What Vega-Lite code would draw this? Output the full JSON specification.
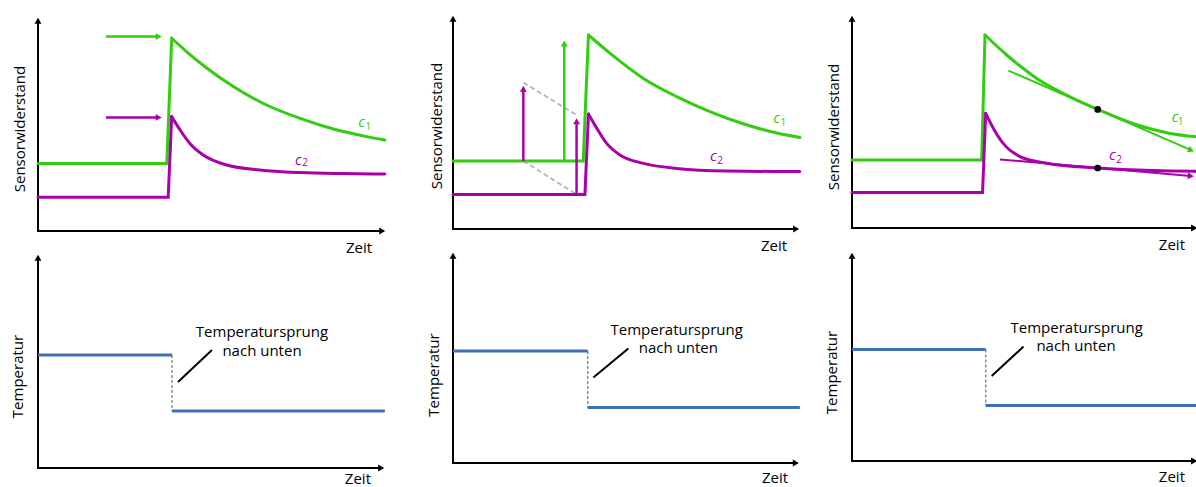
{
  "$schema": "https://vega.github.io/schema/vega-lite/v6.json",
  "padding": 0,
  "spacing": 0,
  "bounds": "flush",
  "align": "each",
  "columns": 3,
  "config": {"view": {"stroke": null}},
  "resolve": {"scale": {"x": "independent", "y": "independent"}},
  "datasets": {
    "segs": [
      {"p": 1, "k": "axis", "s": "ax", "t": 0, "v": 0, "t2": 0, "v2": 105.5},
      {"p": 1, "k": "axis", "s": "ax", "t": 0, "v": 0, "t2": 98.5, "v2": 0},
      {"p": 1, "k": "arrow", "s": "c1", "t": 19.4, "v": 97.2, "t2": 34.5, "v2": 97.2},
      {"p": 1, "k": "arrow", "s": "c2", "t": 19.4, "v": 56.8, "t2": 34.5, "v2": 56.8},
      {"p": 2, "k": "axis", "s": "ax", "t": 0, "v": 0, "t2": 0, "v2": 105.3},
      {"p": 2, "k": "axis", "s": "ax", "t": 0, "v": 0, "t2": 98.2, "v2": 0},
      {"p": 2, "k": "dash", "s": "gray", "t": 20.1, "v": 73.2, "t2": 35.3, "v2": 57},
      {"p": 2, "k": "dash", "s": "gray", "t": 20.1, "v": 34, "t2": 35.3, "v2": 17.3},
      {"p": 2, "k": "arrow", "s": "c2", "t": 20.1, "v": 34, "t2": 20.1, "v2": 70.1},
      {"p": 2, "k": "arrow", "s": "c1", "t": 31.8, "v": 34, "t2": 31.8, "v2": 92.7},
      {"p": 2, "k": "arrow", "s": "c2", "t": 35.3, "v": 17.3, "t2": 35.3, "v2": 53.9},
      {"p": 3, "k": "axis", "s": "ax", "t": 0, "v": 0, "t2": 0, "v2": 104.8},
      {"p": 3, "k": "axis", "s": "ax", "t": 0, "v": 0, "t2": 97.9, "v2": 0},
      {"p": 3, "k": "tangent", "s": "c1", "t": 44.7, "v": 78.7, "t2": 96.9, "v2": 38.9},
      {"p": 3, "k": "tangent", "s": "c2", "t": 42.3, "v": 34.3, "t2": 96.8, "v2": 26.0},
      {"p": 4, "k": "axis", "s": "ax", "t": 0, "v": 0, "t2": 0, "v2": 105.3},
      {"p": 4, "k": "axis", "s": "ax", "t": 0, "v": 0, "t2": 98.2, "v2": 0},
      {"p": 4, "k": "tdash", "s": "gray", "t": 38.3, "v": 56.5, "t2": 38.3, "v2": 28.5},
      {"p": 4, "k": "pointer", "s": "ax", "t": 40, "v": 43, "t2": 49.7, "v2": 59},
      {"p": 5, "k": "axis", "s": "ax", "t": 0, "v": 0, "t2": 0, "v2": 103.8},
      {"p": 5, "k": "axis", "s": "ax", "t": 0, "v": 0, "t2": 98.1, "v2": 0},
      {"p": 5, "k": "tdash", "s": "gray", "t": 38.5, "v": 56, "t2": 38.5, "v2": 27.7},
      {"p": 5, "k": "pointer", "s": "ax", "t": 40.1, "v": 42.7, "t2": 50.1, "v2": 57.3},
      {"p": 6, "k": "axis", "s": "ax", "t": 0, "v": 0, "t2": 0, "v2": 102.8},
      {"p": 6, "k": "axis", "s": "ax", "t": 0, "v": 0, "t2": 97.9, "v2": 0},
      {"p": 6, "k": "tdash", "s": "gray", "t": 38.2, "v": 55.8, "t2": 38.2, "v2": 27.7},
      {"p": 6, "k": "pointer", "s": "ax", "t": 39.9, "v": 42.5, "t2": 49, "v2": 57.2}
    ],
    "heads": [
      {"p": 1, "s": "ax", "d": "up", "t": 0, "v": 105.1, "a": 0},
      {"p": 1, "s": "ax", "d": "right", "t": 98.34, "v": 0, "a": 0},
      {"p": 1, "s": "c1", "d": "right", "t": 34.5, "v": 97.2, "a": 0},
      {"p": 1, "s": "c2", "d": "right", "t": 34.5, "v": 56.8, "a": 0},
      {"p": 2, "s": "ax", "d": "up", "t": 0, "v": 105.1, "a": 0},
      {"p": 2, "s": "ax", "d": "right", "t": 98.04, "v": 0, "a": 0},
      {"p": 2, "s": "c2", "d": "up", "t": 20.1, "v": 70.1, "a": 0},
      {"p": 2, "s": "c1", "d": "up", "t": 31.8, "v": 92.7, "a": 0},
      {"p": 2, "s": "c2", "d": "up", "t": 35.3, "v": 53.9, "a": 0},
      {"p": 3, "s": "ax", "d": "up", "t": 0, "v": 104.6, "a": 0},
      {"p": 3, "s": "ax", "d": "right", "t": 97.74, "v": 0, "a": 0},
      {"p": 3, "s": "c1", "d": "right", "t": 96.9, "v": 38.9, "a": 23.5},
      {"p": 3, "s": "c2", "d": "right", "t": 96.8, "v": 26.0, "a": 5},
      {"p": 4, "s": "ax", "d": "up", "t": 0, "v": 105.1, "a": 0},
      {"p": 4, "s": "ax", "d": "right", "t": 98.04, "v": 0, "a": 0},
      {"p": 5, "s": "ax", "d": "up", "t": 0, "v": 103.6, "a": 0},
      {"p": 5, "s": "ax", "d": "right", "t": 97.94, "v": 0, "a": 0},
      {"p": 6, "s": "ax", "d": "up", "t": 0, "v": 102.6, "a": 0},
      {"p": 6, "s": "ax", "d": "right", "t": 97.74, "v": 0, "a": 0}
    ],
    "curves": [
      {"p": 1, "m": "step", "s": "c1", "g": "c1", "t": 0, "v": 33.8},
      {"p": 1, "m": "step", "s": "c1", "g": "c1", "t": 36.8, "v": 33.8},
      {"p": 1, "m": "step", "s": "c1", "g": "c1", "t": 38.2, "v": 96.4},
      {"p": 1, "m": "decay", "s": "c1", "g": "c1", "t": 38.2, "v": 96.4},
      {"p": 1, "m": "decay", "s": "c1", "g": "c1", "t": 42.5, "v": 89.6},
      {"p": 1, "m": "decay", "s": "c1", "g": "c1", "t": 48.2, "v": 81.5},
      {"p": 1, "m": "decay", "s": "c1", "g": "c1", "t": 55.8, "v": 72.2},
      {"p": 1, "m": "decay", "s": "c1", "g": "c1", "t": 65.3, "v": 63},
      {"p": 1, "m": "decay", "s": "c1", "g": "c1", "t": 74.9, "v": 56.3},
      {"p": 1, "m": "decay", "s": "c1", "g": "c1", "t": 84.4, "v": 51.0},
      {"p": 1, "m": "decay", "s": "c1", "g": "c1", "t": 93.9, "v": 47.2},
      {"p": 1, "m": "decay", "s": "c1", "g": "c1", "t": 99.1, "v": 45.5},
      {"p": 1, "m": "step", "s": "c2", "g": "c2", "t": 0, "v": 16.9},
      {"p": 1, "m": "step", "s": "c2", "g": "c2", "t": 37.2, "v": 16.9},
      {"p": 1, "m": "step", "s": "c2", "g": "c2", "t": 38.2, "v": 57.2},
      {"p": 1, "m": "decay", "s": "c2", "g": "c2", "t": 38.2, "v": 57.2},
      {"p": 1, "m": "decay", "s": "c2", "g": "c2", "t": 40.6, "v": 50.5},
      {"p": 1, "m": "decay", "s": "c2", "g": "c2", "t": 43.4, "v": 43.8},
      {"p": 1, "m": "decay", "s": "c2", "g": "c2", "t": 47.2, "v": 38},
      {"p": 1, "m": "decay", "s": "c2", "g": "c2", "t": 53.9, "v": 33},
      {"p": 1, "m": "decay", "s": "c2", "g": "c2", "t": 63.4, "v": 30.5},
      {"p": 1, "m": "decay", "s": "c2", "g": "c2", "t": 74.9, "v": 29.2},
      {"p": 1, "m": "decay", "s": "c2", "g": "c2", "t": 87, "v": 28.7},
      {"p": 1, "m": "decay", "s": "c2", "g": "c2", "t": 99.1, "v": 28.5},
      {"p": 2, "m": "step", "s": "c1", "g": "c1", "t": 0, "v": 34},
      {"p": 2, "m": "step", "s": "c1", "g": "c1", "t": 37.2, "v": 34},
      {"p": 2, "m": "step", "s": "c1", "g": "c1", "t": 38.7, "v": 97},
      {"p": 2, "m": "decay", "s": "c1", "g": "c1", "t": 38.7, "v": 97},
      {"p": 2, "m": "decay", "s": "c1", "g": "c1", "t": 44.9, "v": 87.8},
      {"p": 2, "m": "decay", "s": "c1", "g": "c1", "t": 54.4, "v": 75.3},
      {"p": 2, "m": "decay", "s": "c1", "g": "c1", "t": 63.9, "v": 66.2},
      {"p": 2, "m": "decay", "s": "c1", "g": "c1", "t": 73.4, "v": 58.7},
      {"p": 2, "m": "decay", "s": "c1", "g": "c1", "t": 82.9, "v": 52.6},
      {"p": 2, "m": "decay", "s": "c1", "g": "c1", "t": 92.5, "v": 48.0},
      {"p": 2, "m": "decay", "s": "c1", "g": "c1", "t": 99.1, "v": 45.8},
      {"p": 2, "m": "step", "s": "c2", "g": "c2", "t": 0, "v": 17.3},
      {"p": 2, "m": "step", "s": "c2", "g": "c2", "t": 37.7, "v": 17.3},
      {"p": 2, "m": "step", "s": "c2", "g": "c2", "t": 38.7, "v": 57.5},
      {"p": 2, "m": "decay", "s": "c2", "g": "c2", "t": 38.7, "v": 57.5},
      {"p": 2, "m": "decay", "s": "c2", "g": "c2", "t": 41.1, "v": 50.3},
      {"p": 2, "m": "decay", "s": "c2", "g": "c2", "t": 43.9, "v": 42.8},
      {"p": 2, "m": "decay", "s": "c2", "g": "c2", "t": 47.7, "v": 37},
      {"p": 2, "m": "decay", "s": "c2", "g": "c2", "t": 54.4, "v": 32.8},
      {"p": 2, "m": "decay", "s": "c2", "g": "c2", "t": 63.9, "v": 30.3},
      {"p": 2, "m": "decay", "s": "c2", "g": "c2", "t": 78.2, "v": 29},
      {"p": 2, "m": "decay", "s": "c2", "g": "c2", "t": 99.1, "v": 28.7},
      {"p": 3, "m": "step", "s": "c1", "g": "c1", "t": 0, "v": 34},
      {"p": 3, "m": "step", "s": "c1", "g": "c1", "t": 37.05, "v": 34},
      {"p": 3, "m": "step", "s": "c1", "g": "c1", "t": 38, "v": 96.5},
      {"p": 3, "m": "decay", "s": "c1", "g": "c1", "t": 38, "v": 96.5},
      {"p": 3, "m": "decay", "s": "c1", "g": "c1", "t": 44.2, "v": 86.5},
      {"p": 3, "m": "decay", "s": "c1", "g": "c1", "t": 52.8, "v": 74.8},
      {"p": 3, "m": "decay", "s": "c1", "g": "c1", "t": 62.3, "v": 65.6},
      {"p": 3, "m": "decay", "s": "c1", "g": "c1", "t": 70.2, "v": 59.3},
      {"p": 3, "m": "decay", "s": "c1", "g": "c1", "t": 81.3, "v": 51.6},
      {"p": 3, "m": "decay", "s": "c1", "g": "c1", "t": 90.9, "v": 47.3},
      {"p": 3, "m": "decay", "s": "c1", "g": "c1", "t": 99.4, "v": 45.5},
      {"p": 3, "m": "step", "s": "c2", "g": "c2", "t": 0, "v": 17.7},
      {"p": 3, "m": "step", "s": "c2", "g": "c2", "t": 37.3, "v": 17.7},
      {"p": 3, "m": "step", "s": "c2", "g": "c2", "t": 38.2, "v": 57.3},
      {"p": 3, "m": "decay", "s": "c2", "g": "c2", "t": 38.2, "v": 57.3},
      {"p": 3, "m": "decay", "s": "c2", "g": "c2", "t": 40.4, "v": 49.8},
      {"p": 3, "m": "decay", "s": "c2", "g": "c2", "t": 43.2, "v": 42.3},
      {"p": 3, "m": "decay", "s": "c2", "g": "c2", "t": 48, "v": 35.7},
      {"p": 3, "m": "decay", "s": "c2", "g": "c2", "t": 55.6, "v": 32.4},
      {"p": 3, "m": "decay", "s": "c2", "g": "c2", "t": 70.2, "v": 30},
      {"p": 3, "m": "decay", "s": "c2", "g": "c2", "t": 86.1, "v": 28.7},
      {"p": 3, "m": "decay", "s": "c2", "g": "c2", "t": 99.4, "v": 28.3},
      {"p": 4, "m": "step", "s": "temp", "g": "a", "t": 0, "v": 56.5},
      {"p": 4, "m": "step", "s": "temp", "g": "a", "t": 38.3, "v": 56.5},
      {"p": 4, "m": "step", "s": "temp", "g": "b", "t": 38.3, "v": 28.5},
      {"p": 4, "m": "step", "s": "temp", "g": "b", "t": 99.1, "v": 28.5},
      {"p": 5, "m": "step", "s": "temp", "g": "a", "t": 0, "v": 56},
      {"p": 5, "m": "step", "s": "temp", "g": "a", "t": 38.5, "v": 56},
      {"p": 5, "m": "step", "s": "temp", "g": "b", "t": 38.5, "v": 27.7},
      {"p": 5, "m": "step", "s": "temp", "g": "b", "t": 99.1, "v": 27.7},
      {"p": 6, "m": "step", "s": "temp", "g": "a", "t": 0, "v": 55.8},
      {"p": 6, "m": "step", "s": "temp", "g": "a", "t": 38.2, "v": 55.8},
      {"p": 6, "m": "step", "s": "temp", "g": "b", "t": 38.2, "v": 27.7},
      {"p": 6, "m": "step", "s": "temp", "g": "b", "t": 99.4, "v": 27.7}
    ],
    "dots": [
      {"p": 3, "t": 70.2, "v": 59.3},
      {"p": 3, "t": 70.2, "v": 30.0}
    ],
    "labels": [
      {"p": 1, "k": "ytitle", "s": "ax", "txt": "Sensorwiderstand", "t": -5.14, "v": 51},
      {"p": 1, "k": "xtitle", "s": "ax", "txt": "Zeit", "t": 91.7, "v": -8.5},
      {"p": 1, "k": "cmain", "s": "c1", "txt": "c", "t": 92.5, "v": 54.3},
      {"p": 1, "k": "csub", "s": "c1", "txt": "1", "t": 94.4, "v": 52.2},
      {"p": 1, "k": "cmain", "s": "c2", "txt": "c", "t": 74.4, "v": 35.5},
      {"p": 1, "k": "csub", "s": "c2", "txt": "2", "t": 76.3, "v": 33.8},
      {"p": 2, "k": "ytitle", "s": "ax", "txt": "Sensorwiderstand", "t": -4.57, "v": 51.5},
      {"p": 2, "k": "xtitle", "s": "ax", "txt": "Zeit", "t": 91.7, "v": -8.5},
      {"p": 2, "k": "cmain", "s": "c1", "txt": "c", "t": 92.5, "v": 55.3},
      {"p": 2, "k": "csub", "s": "c1", "txt": "1", "t": 94.4, "v": 53.2},
      {"p": 2, "k": "cmain", "s": "c2", "txt": "c", "t": 74.4, "v": 36.5},
      {"p": 2, "k": "csub", "s": "c2", "txt": "2", "t": 76.3, "v": 34.2},
      {"p": 3, "k": "ytitle", "s": "ax", "txt": "Sensorwiderstand", "t": -5.14, "v": 50.5},
      {"p": 3, "k": "xtitle", "s": "ax", "txt": "Zeit", "t": 91.4, "v": -8.5},
      {"p": 3, "k": "cmain", "s": "c1", "txt": "c", "t": 92.3, "v": 55.3},
      {"p": 3, "k": "csub", "s": "c1", "txt": "1", "t": 93.9, "v": 53.2},
      {"p": 3, "k": "cmain", "s": "c2", "txt": "c", "t": 74.4, "v": 36.5},
      {"p": 3, "k": "csub", "s": "c2", "txt": "2", "t": 76.3, "v": 34},
      {"p": 4, "k": "ytitle", "s": "ax", "txt": "Temperatur", "t": -5.7, "v": 45.75},
      {"p": 4, "k": "xtitle", "s": "ax", "txt": "Zeit", "t": 91.4, "v": -5.3},
      {"p": 4, "k": "note", "s": "ax", "txt": "Temperatursprung", "t": 64, "v": 65.3},
      {"p": 4, "k": "note", "s": "ax", "txt": "nach unten", "t": 64, "v": 56},
      {"p": 5, "k": "ytitle", "s": "ax", "txt": "Temperatur", "t": -5.4, "v": 44},
      {"p": 5, "k": "xtitle", "s": "ax", "txt": "Zeit", "t": 92, "v": -7.5},
      {"p": 5, "k": "note", "s": "ax", "txt": "Temperatursprung", "t": 63.9, "v": 64.2},
      {"p": 5, "k": "note", "s": "ax", "txt": "nach unten", "t": 64.4, "v": 55.2},
      {"p": 6, "k": "ytitle", "s": "ax", "txt": "Temperatur", "t": -5.6, "v": 44.25},
      {"p": 6, "k": "xtitle", "s": "ax", "txt": "Zeit", "t": 91.4, "v": -8},
      {"p": 6, "k": "note", "s": "ax", "txt": "Temperatursprung", "t": 64.2, "v": 64},
      {"p": 6, "k": "note", "s": "ax", "txt": "nach unten", "t": 64, "v": 55}
    ]
  },
  "concat": [
    {
      "width": 415, "height": 250,
      "encoding": {
        "x": {"field": "t", "type": "quantitative", "scale": {"domain": [-10.857, 107.714], "nice": false, "zero": false}, "axis": null},
        "y": {"field": "v", "type": "quantitative", "scale": {"domain": [-9.5, 115.5], "nice": false, "zero": false}, "axis": null}
      },
      "layer": [
        {"data": {"name": "segs"}, "transform": [{"filter": "datum.p == 1 && datum.k == 'axis'"}], "mark": {"type": "rule", "color": "#000000", "strokeWidth": 2, "strokeCap": "square"}, "encoding": {"x2": {"field": "t2"}, "y2": {"field": "v2"}}},
        {"data": {"name": "curves"}, "transform": [{"filter": "datum.p == 1 && datum.m == 'step'"}], "mark": {"type": "line", "strokeWidth": 3, "strokeCap": "round"}, "encoding": {"detail": {"field": "g"}, "color": {"field": "s", "type": "nominal", "scale": {"domain": ["c1", "c2", "ax", "temp"], "range": ["#33cc11", "#aa00aa", "#000000", "#3f6fb5"]}, "legend": null}}},
        {"data": {"name": "curves"}, "transform": [{"filter": "datum.p == 1 && datum.m == 'decay'"}], "mark": {"type": "line", "strokeWidth": 3, "strokeCap": "round", "interpolate": "monotone"}, "encoding": {"detail": {"field": "g"}, "color": {"field": "s", "type": "nominal", "scale": {"domain": ["c1", "c2", "ax", "temp"], "range": ["#33cc11", "#aa00aa", "#000000", "#3f6fb5"]}, "legend": null}}},
        {"data": {"name": "segs"}, "transform": [{"filter": "datum.p == 1 && datum.k == 'arrow'"}], "mark": {"type": "rule", "strokeWidth": 2.5}, "encoding": {"x2": {"field": "t2"}, "y2": {"field": "v2"}, "color": {"field": "s", "type": "nominal", "scale": {"domain": ["c1", "c2", "ax", "temp"], "range": ["#33cc11", "#aa00aa", "#000000", "#3f6fb5"]}, "legend": null}}},
        {"data": {"name": "heads"}, "transform": [{"filter": "datum.p == 1"}], "mark": {"type": "point", "filled": true, "size": 48, "opacity": 1}, "encoding": {"shape": {"field": "d", "type": "nominal", "scale": {"domain": ["up", "right"], "range": ["triangle-up", "triangle-right"]}, "legend": null}, "angle": {"field": "a", "type": "quantitative", "scale": null}, "color": {"field": "s", "type": "nominal", "scale": {"domain": ["c1", "c2", "ax", "temp"], "range": ["#33cc11", "#aa00aa", "#000000", "#3f6fb5"]}, "legend": null}}},
        {"data": {"name": "labels"}, "transform": [{"filter": "datum.p == 1 && datum.k == 'cmain'"}], "mark": {"type": "text", "font": "Open Sans", "fontStyle": "italic", "fontSize": 15, "align": "center", "baseline": "middle"}, "encoding": {"text": {"field": "txt"}, "color": {"field": "s", "type": "nominal", "scale": {"domain": ["c1", "c2", "ax", "temp"], "range": ["#33cc11", "#aa00aa", "#000000", "#3f6fb5"]}, "legend": null}}},
        {"data": {"name": "labels"}, "transform": [{"filter": "datum.p == 1 && datum.k == 'csub'"}], "mark": {"type": "text", "font": "Open Sans", "fontSize": 10, "align": "center", "baseline": "middle"}, "encoding": {"text": {"field": "txt"}, "color": {"field": "s", "type": "nominal", "scale": {"domain": ["c1", "c2", "ax", "temp"], "range": ["#33cc11", "#aa00aa", "#000000", "#3f6fb5"]}, "legend": null}}},
        {"data": {"name": "labels"}, "transform": [{"filter": "datum.p == 1 && datum.k == 'ytitle'"}], "mark": {"type": "text", "font": "Open Sans", "fontSize": 15, "angle": 270, "align": "center", "baseline": "middle", "color": "#000000"}, "encoding": {"text": {"field": "txt"}}},
        {"data": {"name": "labels"}, "transform": [{"filter": "datum.p == 1 && datum.k == 'xtitle'"}], "mark": {"type": "text", "font": "Open Sans", "fontSize": 15, "align": "center", "baseline": "middle", "color": "#000000"}, "encoding": {"text": {"field": "txt"}}}
      ]
    },
    {
      "width": 399, "height": 250,
      "encoding": {
        "x": {"field": "t", "type": "quantitative", "scale": {"domain": [-10.857, 103.143], "nice": false, "zero": false}, "axis": null},
        "y": {"field": "v", "type": "quantitative", "scale": {"domain": [-10.5, 114.5], "nice": false, "zero": false}, "axis": null}
      },
      "layer": [
        {"data": {"name": "segs"}, "transform": [{"filter": "datum.p == 2 && datum.k == 'axis'"}], "mark": {"type": "rule", "color": "#000000", "strokeWidth": 2, "strokeCap": "square"}, "encoding": {"x2": {"field": "t2"}, "y2": {"field": "v2"}}},
        {"data": {"name": "segs"}, "transform": [{"filter": "datum.p == 2 && datum.k == 'dash'"}], "mark": {"type": "rule", "color": "#b4b4b4", "strokeWidth": 1.8, "strokeDash": [5, 3]}, "encoding": {"x2": {"field": "t2"}, "y2": {"field": "v2"}}},
        {"data": {"name": "curves"}, "transform": [{"filter": "datum.p == 2 && datum.m == 'step'"}], "mark": {"type": "line", "strokeWidth": 3, "strokeCap": "round"}, "encoding": {"detail": {"field": "g"}, "color": {"field": "s", "type": "nominal", "scale": {"domain": ["c1", "c2", "ax", "temp"], "range": ["#33cc11", "#aa00aa", "#000000", "#3f6fb5"]}, "legend": null}}},
        {"data": {"name": "curves"}, "transform": [{"filter": "datum.p == 2 && datum.m == 'decay'"}], "mark": {"type": "line", "strokeWidth": 3, "strokeCap": "round", "interpolate": "monotone"}, "encoding": {"detail": {"field": "g"}, "color": {"field": "s", "type": "nominal", "scale": {"domain": ["c1", "c2", "ax", "temp"], "range": ["#33cc11", "#aa00aa", "#000000", "#3f6fb5"]}, "legend": null}}},
        {"data": {"name": "segs"}, "transform": [{"filter": "datum.p == 2 && datum.k == 'arrow'"}], "mark": {"type": "rule", "strokeWidth": 2.5}, "encoding": {"x2": {"field": "t2"}, "y2": {"field": "v2"}, "color": {"field": "s", "type": "nominal", "scale": {"domain": ["c1", "c2", "ax", "temp"], "range": ["#33cc11", "#aa00aa", "#000000", "#3f6fb5"]}, "legend": null}}},
        {"data": {"name": "heads"}, "transform": [{"filter": "datum.p == 2"}], "mark": {"type": "point", "filled": true, "size": 48, "opacity": 1}, "encoding": {"shape": {"field": "d", "type": "nominal", "scale": {"domain": ["up", "right"], "range": ["triangle-up", "triangle-right"]}, "legend": null}, "angle": {"field": "a", "type": "quantitative", "scale": null}, "color": {"field": "s", "type": "nominal", "scale": {"domain": ["c1", "c2", "ax", "temp"], "range": ["#33cc11", "#aa00aa", "#000000", "#3f6fb5"]}, "legend": null}}},
        {"data": {"name": "labels"}, "transform": [{"filter": "datum.p == 2 && datum.k == 'cmain'"}], "mark": {"type": "text", "font": "Open Sans", "fontStyle": "italic", "fontSize": 15, "align": "center", "baseline": "middle"}, "encoding": {"text": {"field": "txt"}, "color": {"field": "s", "type": "nominal", "scale": {"domain": ["c1", "c2", "ax", "temp"], "range": ["#33cc11", "#aa00aa", "#000000", "#3f6fb5"]}, "legend": null}}},
        {"data": {"name": "labels"}, "transform": [{"filter": "datum.p == 2 && datum.k == 'csub'"}], "mark": {"type": "text", "font": "Open Sans", "fontSize": 10, "align": "center", "baseline": "middle"}, "encoding": {"text": {"field": "txt"}, "color": {"field": "s", "type": "nominal", "scale": {"domain": ["c1", "c2", "ax", "temp"], "range": ["#33cc11", "#aa00aa", "#000000", "#3f6fb5"]}, "legend": null}}},
        {"data": {"name": "labels"}, "transform": [{"filter": "datum.p == 2 && datum.k == 'ytitle'"}], "mark": {"type": "text", "font": "Open Sans", "fontSize": 15, "angle": 270, "align": "center", "baseline": "middle", "color": "#000000"}, "encoding": {"text": {"field": "txt"}}},
        {"data": {"name": "labels"}, "transform": [{"filter": "datum.p == 2 && datum.k == 'xtitle'"}], "mark": {"type": "text", "font": "Open Sans", "fontSize": 15, "align": "center", "baseline": "middle", "color": "#000000"}, "encoding": {"text": {"field": "txt"}}}
      ]
    },
    {
      "width": 382, "height": 250,
      "encoding": {
        "x": {"field": "t", "type": "quantitative", "scale": {"domain": [-10.857, 98.286], "nice": false, "zero": false}, "axis": null},
        "y": {"field": "v", "type": "quantitative", "scale": {"domain": [-11, 114], "nice": false, "zero": false}, "axis": null}
      },
      "layer": [
        {"data": {"name": "segs"}, "transform": [{"filter": "datum.p == 3 && datum.k == 'axis'"}], "mark": {"type": "rule", "color": "#000000", "strokeWidth": 2, "strokeCap": "square"}, "encoding": {"x2": {"field": "t2"}, "y2": {"field": "v2"}}},
        {"data": {"name": "curves"}, "transform": [{"filter": "datum.p == 3 && datum.m == 'step'"}], "mark": {"type": "line", "strokeWidth": 3, "strokeCap": "round"}, "encoding": {"detail": {"field": "g"}, "color": {"field": "s", "type": "nominal", "scale": {"domain": ["c1", "c2", "ax", "temp"], "range": ["#33cc11", "#aa00aa", "#000000", "#3f6fb5"]}, "legend": null}}},
        {"data": {"name": "curves"}, "transform": [{"filter": "datum.p == 3 && datum.m == 'decay'"}], "mark": {"type": "line", "strokeWidth": 3, "strokeCap": "round", "interpolate": "monotone"}, "encoding": {"detail": {"field": "g"}, "color": {"field": "s", "type": "nominal", "scale": {"domain": ["c1", "c2", "ax", "temp"], "range": ["#33cc11", "#aa00aa", "#000000", "#3f6fb5"]}, "legend": null}}},
        {"data": {"name": "segs"}, "transform": [{"filter": "datum.p == 3 && datum.k == 'tangent'"}], "mark": {"type": "rule", "strokeWidth": 2}, "encoding": {"x2": {"field": "t2"}, "y2": {"field": "v2"}, "color": {"field": "s", "type": "nominal", "scale": {"domain": ["c1", "c2", "ax", "temp"], "range": ["#33cc11", "#aa00aa", "#000000", "#3f6fb5"]}, "legend": null}}},
        {"data": {"name": "heads"}, "transform": [{"filter": "datum.p == 3"}], "mark": {"type": "point", "filled": true, "size": 48, "opacity": 1}, "encoding": {"shape": {"field": "d", "type": "nominal", "scale": {"domain": ["up", "right"], "range": ["triangle-up", "triangle-right"]}, "legend": null}, "angle": {"field": "a", "type": "quantitative", "scale": null}, "color": {"field": "s", "type": "nominal", "scale": {"domain": ["c1", "c2", "ax", "temp"], "range": ["#33cc11", "#aa00aa", "#000000", "#3f6fb5"]}, "legend": null}}},
        {"data": {"name": "dots"}, "transform": [{"filter": "datum.p == 3"}], "mark": {"type": "point", "shape": "circle", "filled": true, "size": 45, "opacity": 1, "color": "#000000"}},
        {"data": {"name": "labels"}, "transform": [{"filter": "datum.p == 3 && datum.k == 'cmain'"}], "mark": {"type": "text", "font": "Open Sans", "fontStyle": "italic", "fontSize": 15, "align": "center", "baseline": "middle"}, "encoding": {"text": {"field": "txt"}, "color": {"field": "s", "type": "nominal", "scale": {"domain": ["c1", "c2", "ax", "temp"], "range": ["#33cc11", "#aa00aa", "#000000", "#3f6fb5"]}, "legend": null}}},
        {"data": {"name": "labels"}, "transform": [{"filter": "datum.p == 3 && datum.k == 'csub'"}], "mark": {"type": "text", "font": "Open Sans", "fontSize": 10, "align": "center", "baseline": "middle"}, "encoding": {"text": {"field": "txt"}, "color": {"field": "s", "type": "nominal", "scale": {"domain": ["c1", "c2", "ax", "temp"], "range": ["#33cc11", "#aa00aa", "#000000", "#3f6fb5"]}, "legend": null}}},
        {"data": {"name": "labels"}, "transform": [{"filter": "datum.p == 3 && datum.k == 'ytitle'"}], "mark": {"type": "text", "font": "Open Sans", "fontSize": 15, "angle": 270, "align": "center", "baseline": "middle", "color": "#000000"}, "encoding": {"text": {"field": "txt"}}},
        {"data": {"name": "labels"}, "transform": [{"filter": "datum.p == 3 && datum.k == 'xtitle'"}], "mark": {"type": "text", "font": "Open Sans", "fontSize": 15, "align": "center", "baseline": "middle", "color": "#000000"}, "encoding": {"text": {"field": "txt"}}}
      ]
    },
    {
      "width": 415, "height": 237,
      "encoding": {
        "x": {"field": "t", "type": "quantitative", "scale": {"domain": [-10.857, 107.714], "nice": false, "zero": false}, "axis": null},
        "y": {"field": "v", "type": "quantitative", "scale": {"domain": [-9.5, 109], "nice": false, "zero": false}, "axis": null}
      },
      "layer": [
        {"data": {"name": "segs"}, "transform": [{"filter": "datum.p == 4 && datum.k == 'axis'"}], "mark": {"type": "rule", "color": "#000000", "strokeWidth": 2, "strokeCap": "square"}, "encoding": {"x2": {"field": "t2"}, "y2": {"field": "v2"}}},
        {"data": {"name": "segs"}, "transform": [{"filter": "datum.p == 4 && datum.k == 'tdash'"}], "mark": {"type": "rule", "color": "#8c8c8c", "strokeWidth": 1.5, "strokeDash": [3, 2]}, "encoding": {"x2": {"field": "t2"}, "y2": {"field": "v2"}}},
        {"data": {"name": "curves"}, "transform": [{"filter": "datum.p == 4"}], "mark": {"type": "line", "strokeWidth": 3}, "encoding": {"detail": {"field": "g"}, "color": {"field": "s", "type": "nominal", "scale": {"domain": ["c1", "c2", "ax", "temp"], "range": ["#33cc11", "#aa00aa", "#000000", "#3f6fb5"]}, "legend": null}}},
        {"data": {"name": "segs"}, "transform": [{"filter": "datum.p == 4 && datum.k == 'pointer'"}], "mark": {"type": "rule", "color": "#000000", "strokeWidth": 2}, "encoding": {"x2": {"field": "t2"}, "y2": {"field": "v2"}}},
        {"data": {"name": "heads"}, "transform": [{"filter": "datum.p == 4"}], "mark": {"type": "point", "filled": true, "size": 48, "opacity": 1}, "encoding": {"shape": {"field": "d", "type": "nominal", "scale": {"domain": ["up", "right"], "range": ["triangle-up", "triangle-right"]}, "legend": null}, "angle": {"field": "a", "type": "quantitative", "scale": null}, "color": {"field": "s", "type": "nominal", "scale": {"domain": ["c1", "c2", "ax", "temp"], "range": ["#33cc11", "#aa00aa", "#000000", "#3f6fb5"]}, "legend": null}}},
        {"data": {"name": "labels"}, "transform": [{"filter": "datum.p == 4 && datum.k == 'note'"}], "mark": {"type": "text", "font": "Open Sans", "fontSize": 15, "align": "center", "baseline": "alphabetic", "color": "#000000"}, "encoding": {"text": {"field": "txt"}}},
        {"data": {"name": "labels"}, "transform": [{"filter": "datum.p == 4 && datum.k == 'ytitle'"}], "mark": {"type": "text", "font": "Open Sans", "fontSize": 15, "angle": 270, "align": "center", "baseline": "middle", "color": "#000000"}, "encoding": {"text": {"field": "txt"}}},
        {"data": {"name": "labels"}, "transform": [{"filter": "datum.p == 4 && datum.k == 'xtitle'"}], "mark": {"type": "text", "font": "Open Sans", "fontSize": 15, "align": "center", "baseline": "middle", "color": "#000000"}, "encoding": {"text": {"field": "txt"}}}
      ]
    },
    {
      "width": 399, "height": 237,
      "encoding": {
        "x": {"field": "t", "type": "quantitative", "scale": {"domain": [-10.857, 103.143], "nice": false, "zero": false}, "axis": null},
        "y": {"field": "v", "type": "quantitative", "scale": {"domain": [-12, 106.5], "nice": false, "zero": false}, "axis": null}
      },
      "layer": [
        {"data": {"name": "segs"}, "transform": [{"filter": "datum.p == 5 && datum.k == 'axis'"}], "mark": {"type": "rule", "color": "#000000", "strokeWidth": 2, "strokeCap": "square"}, "encoding": {"x2": {"field": "t2"}, "y2": {"field": "v2"}}},
        {"data": {"name": "segs"}, "transform": [{"filter": "datum.p == 5 && datum.k == 'tdash'"}], "mark": {"type": "rule", "color": "#8c8c8c", "strokeWidth": 1.5, "strokeDash": [3, 2]}, "encoding": {"x2": {"field": "t2"}, "y2": {"field": "v2"}}},
        {"data": {"name": "curves"}, "transform": [{"filter": "datum.p == 5"}], "mark": {"type": "line", "strokeWidth": 3}, "encoding": {"detail": {"field": "g"}, "color": {"field": "s", "type": "nominal", "scale": {"domain": ["c1", "c2", "ax", "temp"], "range": ["#33cc11", "#aa00aa", "#000000", "#3f6fb5"]}, "legend": null}}},
        {"data": {"name": "segs"}, "transform": [{"filter": "datum.p == 5 && datum.k == 'pointer'"}], "mark": {"type": "rule", "color": "#000000", "strokeWidth": 2}, "encoding": {"x2": {"field": "t2"}, "y2": {"field": "v2"}}},
        {"data": {"name": "heads"}, "transform": [{"filter": "datum.p == 5"}], "mark": {"type": "point", "filled": true, "size": 48, "opacity": 1}, "encoding": {"shape": {"field": "d", "type": "nominal", "scale": {"domain": ["up", "right"], "range": ["triangle-up", "triangle-right"]}, "legend": null}, "angle": {"field": "a", "type": "quantitative", "scale": null}, "color": {"field": "s", "type": "nominal", "scale": {"domain": ["c1", "c2", "ax", "temp"], "range": ["#33cc11", "#aa00aa", "#000000", "#3f6fb5"]}, "legend": null}}},
        {"data": {"name": "labels"}, "transform": [{"filter": "datum.p == 5 && datum.k == 'note'"}], "mark": {"type": "text", "font": "Open Sans", "fontSize": 15, "align": "center", "baseline": "alphabetic", "color": "#000000"}, "encoding": {"text": {"field": "txt"}}},
        {"data": {"name": "labels"}, "transform": [{"filter": "datum.p == 5 && datum.k == 'ytitle'"}], "mark": {"type": "text", "font": "Open Sans", "fontSize": 15, "angle": 270, "align": "center", "baseline": "middle", "color": "#000000"}, "encoding": {"text": {"field": "txt"}}},
        {"data": {"name": "labels"}, "transform": [{"filter": "datum.p == 5 && datum.k == 'xtitle'"}], "mark": {"type": "text", "font": "Open Sans", "fontSize": 15, "align": "center", "baseline": "middle", "color": "#000000"}, "encoding": {"text": {"field": "txt"}}}
      ]
    },
    {
      "width": 382, "height": 237,
      "encoding": {
        "x": {"field": "t", "type": "quantitative", "scale": {"domain": [-10.857, 98.286], "nice": false, "zero": false}, "axis": null},
        "y": {"field": "v", "type": "quantitative", "scale": {"domain": [-13, 105.5], "nice": false, "zero": false}, "axis": null}
      },
      "layer": [
        {"data": {"name": "segs"}, "transform": [{"filter": "datum.p == 6 && datum.k == 'axis'"}], "mark": {"type": "rule", "color": "#000000", "strokeWidth": 2, "strokeCap": "square"}, "encoding": {"x2": {"field": "t2"}, "y2": {"field": "v2"}}},
        {"data": {"name": "segs"}, "transform": [{"filter": "datum.p == 6 && datum.k == 'tdash'"}], "mark": {"type": "rule", "color": "#8c8c8c", "strokeWidth": 1.5, "strokeDash": [3, 2]}, "encoding": {"x2": {"field": "t2"}, "y2": {"field": "v2"}}},
        {"data": {"name": "curves"}, "transform": [{"filter": "datum.p == 6"}], "mark": {"type": "line", "strokeWidth": 3}, "encoding": {"detail": {"field": "g"}, "color": {"field": "s", "type": "nominal", "scale": {"domain": ["c1", "c2", "ax", "temp"], "range": ["#33cc11", "#aa00aa", "#000000", "#3f6fb5"]}, "legend": null}}},
        {"data": {"name": "segs"}, "transform": [{"filter": "datum.p == 6 && datum.k == 'pointer'"}], "mark": {"type": "rule", "color": "#000000", "strokeWidth": 2}, "encoding": {"x2": {"field": "t2"}, "y2": {"field": "v2"}}},
        {"data": {"name": "heads"}, "transform": [{"filter": "datum.p == 6"}], "mark": {"type": "point", "filled": true, "size": 48, "opacity": 1}, "encoding": {"shape": {"field": "d", "type": "nominal", "scale": {"domain": ["up", "right"], "range": ["triangle-up", "triangle-right"]}, "legend": null}, "angle": {"field": "a", "type": "quantitative", "scale": null}, "color": {"field": "s", "type": "nominal", "scale": {"domain": ["c1", "c2", "ax", "temp"], "range": ["#33cc11", "#aa00aa", "#000000", "#3f6fb5"]}, "legend": null}}},
        {"data": {"name": "labels"}, "transform": [{"filter": "datum.p == 6 && datum.k == 'note'"}], "mark": {"type": "text", "font": "Open Sans", "fontSize": 15, "align": "center", "baseline": "alphabetic", "color": "#000000"}, "encoding": {"text": {"field": "txt"}}},
        {"data": {"name": "labels"}, "transform": [{"filter": "datum.p == 6 && datum.k == 'ytitle'"}], "mark": {"type": "text", "font": "Open Sans", "fontSize": 15, "angle": 270, "align": "center", "baseline": "middle", "color": "#000000"}, "encoding": {"text": {"field": "txt"}}},
        {"data": {"name": "labels"}, "transform": [{"filter": "datum.p == 6 && datum.k == 'xtitle'"}], "mark": {"type": "text", "font": "Open Sans", "fontSize": 15, "align": "center", "baseline": "middle", "color": "#000000"}, "encoding": {"text": {"field": "txt"}}}
      ]
    }
  ]
}
